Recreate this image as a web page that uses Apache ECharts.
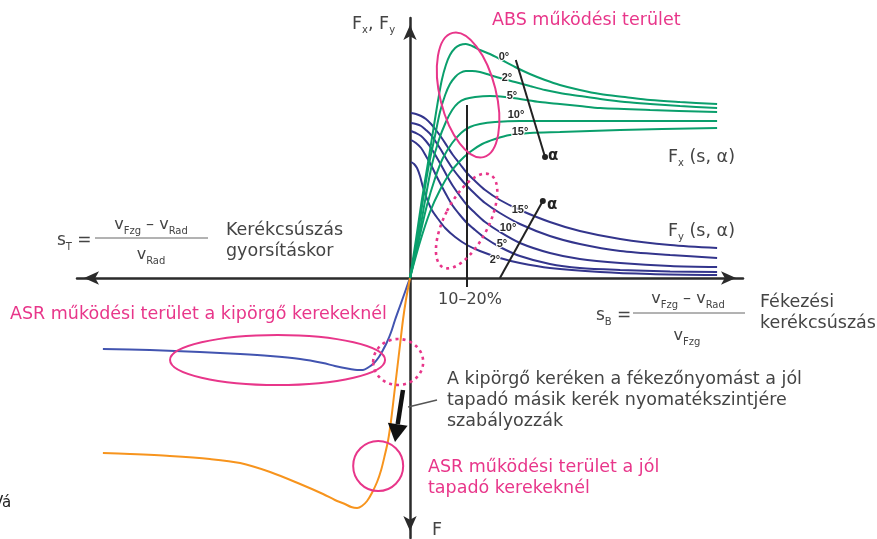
<!DOCTYPE html>
<html>
<head>
<meta charset="utf-8">
<script src="https://cdn.jsdelivr.net/npm/echarts@6/dist/echarts.min.js"></script>
<style>
html,body{margin:0;padding:0;background:#fff;}
#main{width:877px;height:539px;}
</style>
</head>
<body>
<div id="main"></div>
<script>
// Slip s in %, force as a normalised coefficient (F / Fz).
// Longitudinal force Fx(s, α) for the slip angles below.
const fxAngles = ['0°', '2°', '5°', '10°', '15°'];
const fx0  = [[0,0],[1.6,0.19],[3.2,0.39],[4.9,0.58],[6.5,0.765],[7.6,0.89],[8.6,0.99],[9.7,1.065],[10.8,1.115],[12.2,1.15],[13.5,1.165],[15.1,1.17],[16.8,1.16],[18.9,1.14],[21.6,1.12],[24.3,1.095],[28.4,1.055],[32.4,1.02],[36.5,0.99],[40.5,0.965],[45.9,0.94],[51.4,0.92],[58.1,0.905],[64.9,0.89],[73,0.88],[83,0.87]];
const fx2  = [[0,0],[1.9,0.19],[3.5,0.39],[5.1,0.565],[6.8,0.715],[8.1,0.83],[9.5,0.915],[10.8,0.97],[12.2,1.005],[13.5,1.025],[15.1,1.035],[16.8,1.035],[18.9,1.03],[21.6,1.015],[24.3,1.0],[28.4,0.98],[32.4,0.96],[36.5,0.94],[40.5,0.925],[45.9,0.91],[51.4,0.895],[58.1,0.88],[64.9,0.87],[73,0.86],[83,0.85]];
const fx5  = [[0,0],[2.2,0.19],[4.1,0.39],[5.9,0.565],[7.8,0.69],[9.7,0.78],[11.4,0.84],[13,0.875],[14.9,0.895],[17.6,0.905],[21.6,0.91],[25.7,0.905],[29.7,0.895],[35.1,0.88],[40.5,0.87],[45.9,0.86],[51.4,0.85],[64.9,0.84],[83,0.83]];
const fx10 = [[0,0],[2.4,0.19],[4.6,0.365],[6.8,0.5],[8.9,0.6],[11.4,0.675],[13.8,0.725],[16.2,0.755],[18.9,0.77],[23,0.78],[29.7,0.785],[51.4,0.785],[83,0.785]];
const fx15 = [[0,0],[2.7,0.18],[5.4,0.33],[8.1,0.44],[10.8,0.525],[13.5,0.585],[16.2,0.63],[19.5,0.67],[23,0.695],[27,0.715],[32.4,0.725],[40.5,0.73],[56.8,0.74],[83,0.75]];

// Lateral force Fy(s, α)
const fyAngles = ['15°', '10°', '5°', '2°'];
const fyA = [[0.3,0.825],[1.6,0.82],[3,0.81],[4.3,0.795],[5.7,0.77],[7,0.74],[8.4,0.705],[10,0.66],[11.6,0.615],[13.5,0.57],[15.4,0.525],[17.6,0.485],[20.3,0.44],[24.3,0.39],[29.7,0.34],[37.8,0.28],[45.9,0.235],[56.8,0.195],[70.3,0.165],[83,0.15]];
const fyB = [[0.3,0.775],[1.6,0.77],[3,0.76],[4.3,0.74],[5.7,0.715],[7,0.68],[8.4,0.64],[10,0.59],[11.6,0.545],[13.5,0.5],[15.4,0.46],[17.6,0.42],[20.3,0.375],[24.3,0.325],[29.7,0.27],[37.8,0.21],[45.9,0.17],[56.8,0.135],[70.3,0.115],[83,0.1]];
const fyC = [[0.3,0.735],[1.6,0.725],[3,0.71],[4.3,0.685],[5.7,0.65],[7,0.61],[8.4,0.565],[10,0.51],[11.6,0.46],[13.5,0.41],[15.4,0.365],[17.6,0.325],[20.3,0.28],[24.3,0.23],[29.7,0.175],[37.8,0.125],[45.9,0.095],[56.8,0.075],[70.3,0.06],[83,0.055]];
const fyD = [[0.3,0.69],[1.6,0.675],[3,0.65],[4.3,0.61],[5.7,0.565],[7,0.515],[8.4,0.465],[10,0.41],[11.6,0.36],[13.5,0.315],[15.4,0.275],[17.6,0.24],[20.3,0.2],[24.3,0.155],[29.7,0.11],[37.8,0.07],[45.9,0.05],[56.8,0.04],[70.3,0.033],[83,0.03]];
const fyE = [[0.3,0.58],[1.1,0.57],[1.9,0.55],[2.7,0.51],[3.5,0.455],[4.6,0.395],[5.9,0.34],[7.6,0.295],[9.5,0.25],[12.2,0.205],[15.4,0.165],[18.9,0.135],[24.3,0.1],[29.7,0.075],[37.8,0.05],[51.4,0.03],[64.9,0.02],[83,0.015]];

// Traction side (drive slip): spinning wheel and well-gripping wheel
const asrSpin = [[0,0],[-1.35,-0.07],[-2.7,-0.14],[-4.05,-0.21],[-5.1,-0.27],[-6.2,-0.32],[-7.3,-0.36],[-8.4,-0.395],[-9.7,-0.425],[-11.1,-0.445],[-12.7,-0.46],[-14.3,-0.46],[-16.2,-0.455],[-20.3,-0.44],[-23.5,-0.425],[-29.7,-0.405],[-37.8,-0.39],[-45.9,-0.38],[-56.8,-0.37],[-70.3,-0.36],[-83,-0.355]];
const asrGrip = [[0,0],[-1.1,-0.11],[-1.9,-0.21],[-2.7,-0.335],[-3.5,-0.46],[-4.3,-0.585],[-5.1,-0.71],[-5.9,-0.81],[-6.8,-0.885],[-7.8,-0.96],[-8.9,-1.02],[-10.3,-1.075],[-11.6,-1.115],[-13,-1.14],[-14.3,-1.15],[-15.9,-1.145],[-17.6,-1.13],[-20.3,-1.11],[-23.5,-1.08],[-29.7,-1.03],[-37.8,-0.97],[-45.9,-0.925],[-54.1,-0.905],[-64.9,-0.89],[-75.7,-0.88],[-83,-0.875]];

// Slip-angle direction guides and the 10–20 % slip band
const alphaFx = [[28.6,1.09],[36.5,0.605]];
const alphaFy = [[24.3,0],[35.9,0.385]];
const slipBand = [[15.4,0.865],[15.4,-0.045]];

// Highlighted working regions: [centre s, centre F, rx px, ry px, rotation deg, dashed]
const regions = [
  [15.7, 0.915, 28, 64, 14, false],
  [15.3, 0.285, 22, 52, -27, true],
  [-35.8, -0.41, 107.5, 25, 0, false],
  [-3.2, -0.42, 25, 23, 0, true],
  [-8.6, -0.94, 25, 25, 0, false]
];
// Pressure-control arrow and leader line
const pressureArrow = [[-1.9,-0.56],[-4.05,-0.82]];
const leader = [[-0.5,-0.645],[7.3,-0.61]];

const GREEN = '#0a9f6c', NAVY = '#33358c', ASR_BLUE = '#4254b0', ORANGE = '#f7941d';
const MAGENTA = '#e8368a', INK = '#444444';
const FONT = '"DejaVu Sans"';
const TXT = '17.5px ' + FONT;

const chart = echarts.init(document.getElementById('main'), null, {renderer: 'canvas'});

function curve(data, color, z) {
  return {
    type: 'line', data: data, smooth: 0.3,
    symbol: 'none', showSymbol: false, silent: true,
    lineStyle: {color: color, width: 2}, z: z
  };
}
function guide(data) {
  return {
    type: 'line', silent: true, z: 5,
    data: [{value: data[0], symbol: 'none'}, {value: data[1], symbol: 'circle', symbolSize: 6}],
    showSymbol: true, itemStyle: {color: '#222'},
    lineStyle: {color: '#222', width: 2}
  };
}

const axisCommon = {
  type: 'value',
  axisTick: {show: false}, axisLabel: {show: false}, splitLine: {show: false},
  axisLine: {show: true, onZero: true, symbol: ['arrow', 'arrow'], symbolSize: [10, 15], symbolOffset: [7, -7],
    lineStyle: {color: '#2b2b2b', width: 2.5}}
};

chart.setOption({
  animation: false,
  grid: {left: 77, right: 134, top: 18, bottom: 1},
  xAxis: Object.assign({}, axisCommon, {min: -90, max: 90}),
  yAxis: Object.assign({}, axisCommon, {min: -1.3, max: 1.3}),
  series: [
    curve(fyA, NAVY, 2), curve(fyB, NAVY, 2), curve(fyC, NAVY, 2), curve(fyD, NAVY, 2), curve(fyE, NAVY, 2),
    curve(fx0, GREEN, 3), curve(fx2, GREEN, 3), curve(fx5, GREEN, 3), curve(fx10, GREEN, 3), curve(fx15, GREEN, 3),
    curve(asrSpin, ASR_BLUE, 2), curve(asrGrip, ORANGE, 2),
    {type: 'line', data: slipBand, symbol: 'none', silent: true, z: 4, lineStyle: {color: '#222', width: 2}},
    guide(alphaFx), guide(alphaFy)
  ]
});

const toPx = p => chart.convertToPixel({gridIndex: 0}, p);
const g = [];

// Working-region ellipses
regions.forEach(r => {
  const c = toPx([r[0], r[1]]);
  g.push({type: 'ellipse', x: c[0], y: c[1], rotation: r[4] * Math.PI / 180, z: 50,
    shape: {cx: 0, cy: 0, rx: r[2], ry: r[3]},
    style: {fill: 'none', stroke: MAGENTA, lineWidth: r[5] ? 2.6 : 2, lineDash: r[5] ? [3, 4] : null}});
});

// Pressure arrow
(function () {
  const a0 = toPx(pressureArrow[0]), a1 = toPx(pressureArrow[1]);
  const dx = a1[0] - a0[0], dy = a1[1] - a0[1], L = Math.hypot(dx, dy), ux = dx / L, uy = dy / L;
  const hl = 18, hw = 10;
  const b = [a1[0] - ux * hl, a1[1] - uy * hl];
  g.push({type: 'line', z: 50, shape: {x1: a0[0], y1: a0[1], x2: b[0], y2: b[1]}, style: {stroke: '#111', lineWidth: 4.5}});
  g.push({type: 'polygon', z: 50, shape: {points: [a1, [b[0] - uy * hw, b[1] + ux * hw], [b[0] + uy * hw, b[1] - ux * hw]]}, style: {fill: '#111'}});
  const l0 = toPx(leader[0]), l1 = toPx(leader[1]);
  g.push({type: 'line', z: 50, shape: {x1: l0[0], y1: l0[1], x2: l1[0], y2: l1[1]}, style: {stroke: '#555', lineWidth: 1.5}});
})();

function text(str, x, y, opts) {
  opts = opts || {};
  g.push({type: 'text', x: x, y: y, z: 60, style: Object.assign({
    text: str, fill: INK, font: TXT, align: 'left', verticalAlign: 'middle'
  }, opts)});
}
const subRich = {
  m: {fontSize: 17, fontFamily: FONT, lineHeight: 22, fill: INK},
  s: {fontSize: 10, fontFamily: FONT, lineHeight: 6, verticalAlign: 'bottom', fill: INK}
};
function rich(str, x, y, align, size) {
  const r = JSON.parse(JSON.stringify(subRich));
  if (size) r.m.fontSize = size;
  text(str, x, y, {rich: r, align: align || 'left'});
}

// Curve labels
const lblStyle = {font: 'bold 11px "Liberation Sans"', align: 'center', fill: '#2a2a2a', stroke: '#fff', lineWidth: 2};
const fxLabelPos = [[504,57],[507,78],[512,96],[516,115],[520,132]];
fxAngles.forEach((t, i) => text(t, fxLabelPos[i][0], fxLabelPos[i][1], lblStyle));
const fyLabelPos = [[520,210],[508,228],[502,244],[495,260]];
fyAngles.forEach((t, i) => text(t, fyLabelPos[i][0], fyLabelPos[i][1], lblStyle));
text('α', 548, 156, {font: 'bold 15px ' + FONT, fill: '#222'});
text('α', 547, 205, {font: 'bold 15px ' + FONT, fill: '#222'});

// Axis and curve titles
rich('{m|F}{s|x}{m|, F}{s|y}', 352, 24, 'left', 17.5);
rich('{m|F}{s|x}{m| (s, α)}', 668, 157, 'left', 17.5);
rich('{m|F}{s|y}{m| (s, α)}', 668, 231, 'left', 17.5);
text('F', 432, 530);
text('ABS működési terület', 492, 20, {fill: MAGENTA});
text('10–20%', 470, 300, {font: '16px ' + FONT, align: 'center'});

// Drive slip definition
rich('{m|s}{s|T}{m| =}', 57, 241, 'left', 17);
rich('{m|v}{s|Fzg}{m| – v}{s|Rad}', 151, 225, 'center', 16);
g.push({type: 'line', z: 50, shape: {x1: 95, y1: 238, x2: 208, y2: 238}, style: {stroke: '#666', lineWidth: 1}});
rich('{m|v}{s|Rad}', 151, 255, 'center', 16);
text('Kerékcsúszás', 226, 230);
text('gyorsításkor', 226, 251);

// Brake slip definition
rich('{m|s}{s|B}{m| =}', 596, 316, 'left', 17);
rich('{m|v}{s|Fzg}{m| – v}{s|Rad}', 688, 299, 'center', 16);
g.push({type: 'line', z: 50, shape: {x1: 633, y1: 313, x2: 745, y2: 313}, style: {stroke: '#666', lineWidth: 1}});
rich('{m|v}{s|Fzg}', 687, 336, 'center', 16);
text('Fékezési', 760, 302);
text('kerékcsúszás', 760, 323);

// Traction control notes
text('ASR működési terület a kipörgő kerekeknél', 10, 314, {fill: MAGENTA});
text('A kipörgő keréken a fékezőnyomást a jól', 447, 379);
text('tapadó másik kerék nyomatékszintjére', 447, 400);
text('szabályozzák', 447, 421);
text('ASR működési terület a jól', 428, 467, {fill: MAGENTA});
text('tapadó kerekeknél', 428, 488, {fill: MAGENTA});
text('Vá', -7, 503, {font: '15px ' + FONT, fill: '#222'});

chart.setOption({graphic: {elements: g}});
</script>
</body>
</html>
